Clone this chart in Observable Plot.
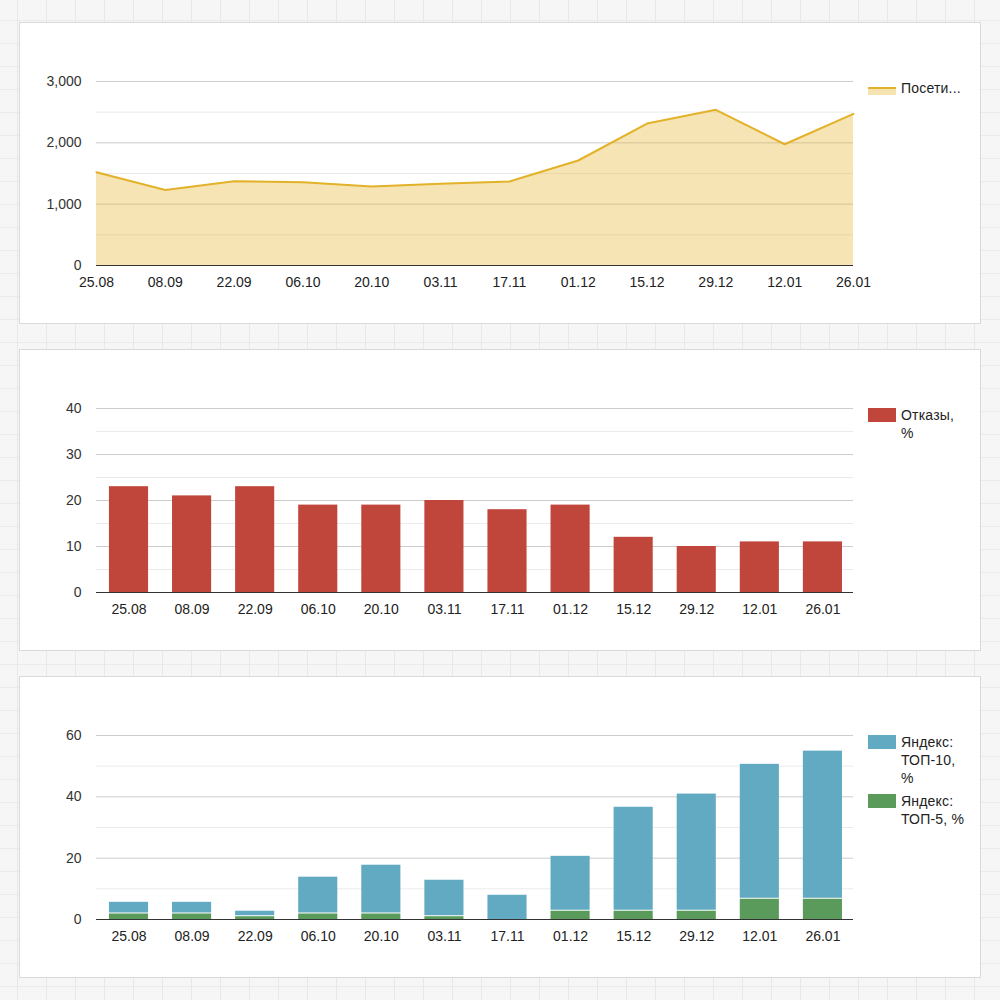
<!DOCTYPE html>
<html>
<head>
<meta charset="utf-8">
<script src="https://cdn.jsdelivr.net/npm/d3@7"></script>
<script src="https://cdn.jsdelivr.net/npm/@observablehq/plot@0.6"></script>
<style>
  html, body { margin: 0; padding: 0; }
  body {
    width: 1000px; height: 1000px; position: relative; overflow: hidden;
    background-color: #f6f6f6;
    background-image:
      repeating-linear-gradient(90deg, transparent 0 17px, #e8e8e8 17px 18px, transparent 18px 29px),
      repeating-linear-gradient(0deg, transparent 0 13px, #ebebeb 13px 14px, transparent 14px 23px);
    font-family: "Liberation Sans", Arial, sans-serif;
  }
  .panel { position: absolute; left: 20px; width: 960px; height: 300px; background: #fff; outline: 1px solid #d9d9d9; }
  .panel svg { position: absolute; left: 0; top: 0; }
  .leg { position: absolute; font-size: 14px; line-height: 18px; color: #222; letter-spacing: 0.2px; white-space: nowrap; }
  .sw { position: absolute; width: 28px; height: 14px; }
</style>
</head>
<body>
<div class="panel" id="p1" style="top:23px"></div>
<div class="panel" id="p2" style="top:350px"></div>
<div class="panel" id="p3" style="top:677px"></div>

<!-- legends -->
<div class="sw" style="left:868px; top:87px; height:2px; background:#e3b22b"></div>
<div class="sw" style="left:868px; top:89px; height:6px; background:#f5e4b0"></div>
<div class="leg" style="left:901px; top:79px">Посети...</div>

<div class="sw" style="left:868px; top:408px; background:#c0463c"></div>
<div class="leg" style="left:901px; top:406px">Отказы,<br>%</div>

<div class="sw" style="left:868px; top:735px; background:#62aac1"></div>
<div class="leg" style="left:901px; top:733px">Яндекс:<br>ТОП-10,<br>%</div>
<div class="sw" style="left:868px; top:794px; background:#5a9b5c"></div>
<div class="leg" style="left:901px; top:792px">Яндекс:<br>ТОП-5, %</div>

<script>
// ---- data ----
const dates = ["25.08","08.09","22.09","06.10","20.10","03.11","17.11","01.12","15.12","29.12","12.01","26.01"];
const visits = [1520, 1230, 1375, 1358, 1290, 1332, 1370, 1712, 2315, 2538, 1977, 2473];
const bounce = [23, 21, 23, 19, 19, 20, 18, 19, 12, 10, 11, 11];
const top10 = [5.6, 5.6, 2.7, 13.8, 17.7, 12.8, 7.9, 20.6, 36.6, 40.9, 50.6, 54.9];
const top5  = [1.8, 1.8, 0.9, 1.8, 1.8, 0.9, 0, 2.7, 2.7, 2.7, 6.6, 6.6];

const ticks1 = [0, 1000, 2000, 3000];
const minor1 = [500, 1500, 2500];
const ticks2 = [0, 10, 20, 30, 40];
const minor2 = [5, 15, 25, 35];
const ticks3 = [0, 20, 40, 60];
const minor3 = [10, 30, 50];

const common = {
  width: 960, height: 300,
  marginLeft: 76, marginRight: 127, marginTop: 58, marginBottom: 58,
  style: { fontFamily: "Liberation Sans, Arial, sans-serif", fontSize: "14px", color: "#333", background: "transparent", overflow: "visible" }
};
const axX = () => Plot.axisX({ tickSize: 0, tickPadding: 12, fill: "#222", fontSize: 14, label: null });
const axY = (t, fmt) => Plot.axisY(t, { tickSize: 0, tickPadding: 15, fill: "#333", fontSize: 14, tickFormat: fmt, label: null });

// ---- chart 1: visits area ----
const rows1 = dates.map((d, i) => ({ d, v: visits[i] }));
const c1 = Plot.plot({
  ...common,
  x: { type: "point", domain: dates, padding: 0, round: false, label: null },
  y: { domain: [0, 3000], label: null },
  marks: [
    Plot.ruleY(minor1, { stroke: "#ebebeb" }),
    Plot.ruleY(ticks1.slice(1), { stroke: "#cccccc" }),
    Plot.areaY(rows1, { x: "d", y: "v", fill: "#e6b32e", fillOpacity: 0.36 }),
    Plot.lineY(rows1, { x: "d", y: "v", stroke: "#e3b22b", strokeWidth: 2 }),
    Plot.ruleY([0], { stroke: "#333", strokeWidth: 1.2 }),
    axX(),
    axY(ticks1, d3.format(","))
  ]
});
document.getElementById("p1").appendChild(c1);

// ---- chart 2: bounce bars ----
const bandX = { type: "band", domain: dates, paddingInner: 0.38, paddingOuter: 0.19, align: 0.54, round: false, label: null };
const rows2 = dates.map((d, i) => ({ d, v: bounce[i] }));
const c2 = Plot.plot({
  ...common,
  x: bandX,
  y: { domain: [0, 40], label: null },
  marks: [
    Plot.ruleY(minor2, { stroke: "#ebebeb" }),
    Plot.ruleY(ticks2.slice(1), { stroke: "#cccccc" }),
    Plot.barY(rows2, { x: "d", y: "v", fill: "#c0463c" }),
    Plot.ruleY([0], { stroke: "#333", strokeWidth: 1.2 }),
    axX(),
    axY(ticks2)
  ]
});
document.getElementById("p2").appendChild(c2);

// ---- chart 3: Yandex TOP bars ----
const rows3 = dates.map((d, i) => ({ d, t10: top10[i], t5: top5[i] }));
const c3 = Plot.plot({
  ...common,
  x: bandX,
  y: { domain: [0, 60], label: null },
  marks: [
    Plot.ruleY(minor3, { stroke: "#ebebeb" }),
    Plot.ruleY(ticks3.slice(1), { stroke: "#cccccc" }),
    Plot.barY(rows3.filter(r => r.t5 > 0), { x: "d", y1: "t5", y2: "t10", fill: "#62aac1", insetBottom: 1 }),
    Plot.barY(rows3.filter(r => r.t5 === 0), { x: "d", y1: 0, y2: "t10", fill: "#62aac1" }),
    Plot.barY(rows3.filter(r => r.t5 > 0), { x: "d", y1: 0, y2: "t5", fill: "#5a9b5c" }),
    Plot.ruleY([0], { stroke: "#333", strokeWidth: 1.2 }),
    axX(),
    axY(ticks3)
  ]
});
document.getElementById("p3").appendChild(c3);
</script>
</body>
</html>
